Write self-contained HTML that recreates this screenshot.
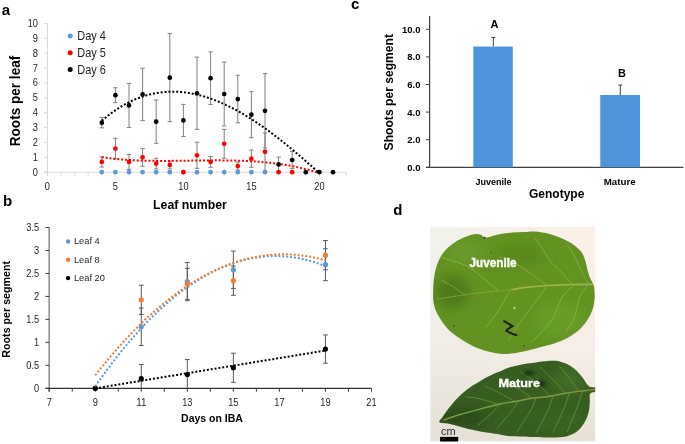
<!DOCTYPE html>
<html><head><meta charset="utf-8"><style>
html,body{margin:0;padding:0;background:#fff;}
svg{display:block;will-change:transform;}
text{font-family:"Liberation Sans",sans-serif;}
</style></head><body>
<svg width="685" height="444" viewBox="0 0 685 444" font-family="Liberation Sans, sans-serif">
<rect width="685" height="444" fill="#fff"/>
<line x1="47.4" y1="23.50" x2="47.4" y2="175.7" stroke="#d9d9d9" stroke-width="1"/>
<line x1="43.9" y1="172.2" x2="346.60" y2="172.2" stroke="#d9d9d9" stroke-width="1"/>
<line x1="43.9" y1="172.20" x2="47.4" y2="172.20" stroke="#d9d9d9" stroke-width="1"/>
<line x1="43.9" y1="157.33" x2="47.4" y2="157.33" stroke="#d9d9d9" stroke-width="1"/>
<line x1="43.9" y1="142.46" x2="47.4" y2="142.46" stroke="#d9d9d9" stroke-width="1"/>
<line x1="43.9" y1="127.59" x2="47.4" y2="127.59" stroke="#d9d9d9" stroke-width="1"/>
<line x1="43.9" y1="112.72" x2="47.4" y2="112.72" stroke="#d9d9d9" stroke-width="1"/>
<line x1="43.9" y1="97.85" x2="47.4" y2="97.85" stroke="#d9d9d9" stroke-width="1"/>
<line x1="43.9" y1="82.98" x2="47.4" y2="82.98" stroke="#d9d9d9" stroke-width="1"/>
<line x1="43.9" y1="68.11" x2="47.4" y2="68.11" stroke="#d9d9d9" stroke-width="1"/>
<line x1="43.9" y1="53.24" x2="47.4" y2="53.24" stroke="#d9d9d9" stroke-width="1"/>
<line x1="43.9" y1="38.37" x2="47.4" y2="38.37" stroke="#d9d9d9" stroke-width="1"/>
<line x1="43.9" y1="23.50" x2="47.4" y2="23.50" stroke="#d9d9d9" stroke-width="1"/>
<line x1="47.40" y1="172.2" x2="47.40" y2="175.7" stroke="#d9d9d9" stroke-width="1"/>
<line x1="61.00" y1="172.2" x2="61.00" y2="175.7" stroke="#d9d9d9" stroke-width="1"/>
<line x1="74.60" y1="172.2" x2="74.60" y2="175.7" stroke="#d9d9d9" stroke-width="1"/>
<line x1="88.20" y1="172.2" x2="88.20" y2="175.7" stroke="#d9d9d9" stroke-width="1"/>
<line x1="101.80" y1="172.2" x2="101.80" y2="175.7" stroke="#d9d9d9" stroke-width="1"/>
<line x1="115.40" y1="172.2" x2="115.40" y2="175.7" stroke="#d9d9d9" stroke-width="1"/>
<line x1="129.00" y1="172.2" x2="129.00" y2="175.7" stroke="#d9d9d9" stroke-width="1"/>
<line x1="142.60" y1="172.2" x2="142.60" y2="175.7" stroke="#d9d9d9" stroke-width="1"/>
<line x1="156.20" y1="172.2" x2="156.20" y2="175.7" stroke="#d9d9d9" stroke-width="1"/>
<line x1="169.80" y1="172.2" x2="169.80" y2="175.7" stroke="#d9d9d9" stroke-width="1"/>
<line x1="183.40" y1="172.2" x2="183.40" y2="175.7" stroke="#d9d9d9" stroke-width="1"/>
<line x1="197.00" y1="172.2" x2="197.00" y2="175.7" stroke="#d9d9d9" stroke-width="1"/>
<line x1="210.60" y1="172.2" x2="210.60" y2="175.7" stroke="#d9d9d9" stroke-width="1"/>
<line x1="224.20" y1="172.2" x2="224.20" y2="175.7" stroke="#d9d9d9" stroke-width="1"/>
<line x1="237.80" y1="172.2" x2="237.80" y2="175.7" stroke="#d9d9d9" stroke-width="1"/>
<line x1="251.40" y1="172.2" x2="251.40" y2="175.7" stroke="#d9d9d9" stroke-width="1"/>
<line x1="265.00" y1="172.2" x2="265.00" y2="175.7" stroke="#d9d9d9" stroke-width="1"/>
<line x1="278.60" y1="172.2" x2="278.60" y2="175.7" stroke="#d9d9d9" stroke-width="1"/>
<line x1="292.20" y1="172.2" x2="292.20" y2="175.7" stroke="#d9d9d9" stroke-width="1"/>
<line x1="305.80" y1="172.2" x2="305.80" y2="175.7" stroke="#d9d9d9" stroke-width="1"/>
<line x1="319.40" y1="172.2" x2="319.40" y2="175.7" stroke="#d9d9d9" stroke-width="1"/>
<line x1="333.00" y1="172.2" x2="333.00" y2="175.7" stroke="#d9d9d9" stroke-width="1"/>
<line x1="346.60" y1="172.2" x2="346.60" y2="175.7" stroke="#d9d9d9" stroke-width="1"/>
<text x="38" y="175.60" text-anchor="end" font-size="10.5" textLength="5.14" lengthAdjust="spacingAndGlyphs" fill="#1f1f1f">0</text>
<text x="38" y="160.73" text-anchor="end" font-size="10.5" textLength="5.14" lengthAdjust="spacingAndGlyphs" fill="#1f1f1f">1</text>
<text x="38" y="145.86" text-anchor="end" font-size="10.5" textLength="5.14" lengthAdjust="spacingAndGlyphs" fill="#1f1f1f">2</text>
<text x="38" y="130.99" text-anchor="end" font-size="10.5" textLength="5.14" lengthAdjust="spacingAndGlyphs" fill="#1f1f1f">3</text>
<text x="38" y="116.12" text-anchor="end" font-size="10.5" textLength="5.14" lengthAdjust="spacingAndGlyphs" fill="#1f1f1f">4</text>
<text x="38" y="101.25" text-anchor="end" font-size="10.5" textLength="5.14" lengthAdjust="spacingAndGlyphs" fill="#1f1f1f">5</text>
<text x="38" y="86.38" text-anchor="end" font-size="10.5" textLength="5.14" lengthAdjust="spacingAndGlyphs" fill="#1f1f1f">6</text>
<text x="38" y="71.51" text-anchor="end" font-size="10.5" textLength="5.14" lengthAdjust="spacingAndGlyphs" fill="#1f1f1f">7</text>
<text x="38" y="56.64" text-anchor="end" font-size="10.5" textLength="5.14" lengthAdjust="spacingAndGlyphs" fill="#1f1f1f">8</text>
<text x="38" y="41.77" text-anchor="end" font-size="10.5" textLength="5.14" lengthAdjust="spacingAndGlyphs" fill="#1f1f1f">9</text>
<text x="38" y="26.90" text-anchor="end" font-size="10.5" textLength="10.27" lengthAdjust="spacingAndGlyphs" fill="#1f1f1f">10</text>
<text x="47.40" y="189.6" text-anchor="middle" font-size="10.5" textLength="5.14" lengthAdjust="spacingAndGlyphs" fill="#1f1f1f">0</text>
<text x="115.40" y="189.6" text-anchor="middle" font-size="10.5" textLength="5.14" lengthAdjust="spacingAndGlyphs" fill="#1f1f1f">5</text>
<text x="183.40" y="189.6" text-anchor="middle" font-size="10.5" textLength="10.27" lengthAdjust="spacingAndGlyphs" fill="#1f1f1f">10</text>
<text x="251.40" y="189.6" text-anchor="middle" font-size="10.5" textLength="10.27" lengthAdjust="spacingAndGlyphs" fill="#1f1f1f">15</text>
<text x="319.40" y="189.6" text-anchor="middle" font-size="10.5" textLength="10.27" lengthAdjust="spacingAndGlyphs" fill="#1f1f1f">20</text>
<line x1="101.80" y1="156.88" x2="101.80" y2="167.00" stroke="#808080" stroke-width="1"/>
<line x1="99.60" y1="156.88" x2="104.00" y2="156.88" stroke="#808080" stroke-width="1"/>
<line x1="99.60" y1="167.00" x2="104.00" y2="167.00" stroke="#808080" stroke-width="1"/>
<line x1="115.40" y1="138.30" x2="115.40" y2="158.82" stroke="#808080" stroke-width="1"/>
<line x1="113.20" y1="138.30" x2="117.60" y2="138.30" stroke="#808080" stroke-width="1"/>
<line x1="113.20" y1="158.82" x2="117.60" y2="158.82" stroke="#808080" stroke-width="1"/>
<line x1="129.00" y1="154.50" x2="129.00" y2="169.37" stroke="#808080" stroke-width="1"/>
<line x1="126.80" y1="154.50" x2="131.20" y2="154.50" stroke="#808080" stroke-width="1"/>
<line x1="126.80" y1="169.37" x2="131.20" y2="169.37" stroke="#808080" stroke-width="1"/>
<line x1="142.60" y1="148.41" x2="142.60" y2="166.25" stroke="#808080" stroke-width="1"/>
<line x1="140.40" y1="148.41" x2="144.80" y2="148.41" stroke="#808080" stroke-width="1"/>
<line x1="140.40" y1="166.25" x2="144.80" y2="166.25" stroke="#808080" stroke-width="1"/>
<line x1="156.20" y1="158.22" x2="156.20" y2="168.93" stroke="#808080" stroke-width="1"/>
<line x1="154.00" y1="158.22" x2="158.40" y2="158.22" stroke="#808080" stroke-width="1"/>
<line x1="154.00" y1="168.93" x2="158.40" y2="168.93" stroke="#808080" stroke-width="1"/>
<line x1="169.80" y1="160.90" x2="169.80" y2="168.93" stroke="#808080" stroke-width="1"/>
<line x1="167.60" y1="160.90" x2="172.00" y2="160.90" stroke="#808080" stroke-width="1"/>
<line x1="167.60" y1="168.93" x2="172.00" y2="168.93" stroke="#808080" stroke-width="1"/>
<line x1="197.00" y1="142.16" x2="197.00" y2="168.33" stroke="#808080" stroke-width="1"/>
<line x1="194.80" y1="142.16" x2="199.20" y2="142.16" stroke="#808080" stroke-width="1"/>
<line x1="194.80" y1="168.33" x2="199.20" y2="168.33" stroke="#808080" stroke-width="1"/>
<line x1="210.60" y1="156.59" x2="210.60" y2="167.29" stroke="#808080" stroke-width="1"/>
<line x1="208.40" y1="156.59" x2="212.80" y2="156.59" stroke="#808080" stroke-width="1"/>
<line x1="208.40" y1="167.29" x2="212.80" y2="167.29" stroke="#808080" stroke-width="1"/>
<line x1="224.20" y1="129.37" x2="224.20" y2="158.22" stroke="#808080" stroke-width="1"/>
<line x1="222.00" y1="129.37" x2="226.40" y2="129.37" stroke="#808080" stroke-width="1"/>
<line x1="222.00" y1="158.22" x2="226.40" y2="158.22" stroke="#808080" stroke-width="1"/>
<line x1="237.80" y1="162.09" x2="237.80" y2="170.12" stroke="#808080" stroke-width="1"/>
<line x1="235.60" y1="162.09" x2="240.00" y2="162.09" stroke="#808080" stroke-width="1"/>
<line x1="235.60" y1="170.12" x2="240.00" y2="170.12" stroke="#808080" stroke-width="1"/>
<line x1="251.40" y1="150.04" x2="251.40" y2="167.29" stroke="#808080" stroke-width="1"/>
<line x1="249.20" y1="150.04" x2="253.60" y2="150.04" stroke="#808080" stroke-width="1"/>
<line x1="249.20" y1="167.29" x2="253.60" y2="167.29" stroke="#808080" stroke-width="1"/>
<line x1="265.00" y1="132.94" x2="265.00" y2="170.71" stroke="#808080" stroke-width="1"/>
<line x1="262.80" y1="132.94" x2="267.20" y2="132.94" stroke="#808080" stroke-width="1"/>
<line x1="262.80" y1="170.71" x2="267.20" y2="170.71" stroke="#808080" stroke-width="1"/>
<line x1="101.80" y1="117.48" x2="101.80" y2="127.89" stroke="#808080" stroke-width="1"/>
<line x1="99.60" y1="117.48" x2="104.00" y2="117.48" stroke="#808080" stroke-width="1"/>
<line x1="99.60" y1="127.89" x2="104.00" y2="127.89" stroke="#808080" stroke-width="1"/>
<line x1="115.40" y1="87.74" x2="115.40" y2="102.61" stroke="#808080" stroke-width="1"/>
<line x1="113.20" y1="87.74" x2="117.60" y2="87.74" stroke="#808080" stroke-width="1"/>
<line x1="113.20" y1="102.61" x2="117.60" y2="102.61" stroke="#808080" stroke-width="1"/>
<line x1="129.00" y1="83.43" x2="129.00" y2="127.44" stroke="#808080" stroke-width="1"/>
<line x1="126.80" y1="83.43" x2="131.20" y2="83.43" stroke="#808080" stroke-width="1"/>
<line x1="126.80" y1="127.44" x2="131.20" y2="127.44" stroke="#808080" stroke-width="1"/>
<line x1="142.60" y1="68.26" x2="142.60" y2="120.60" stroke="#808080" stroke-width="1"/>
<line x1="140.40" y1="68.26" x2="144.80" y2="68.26" stroke="#808080" stroke-width="1"/>
<line x1="140.40" y1="120.60" x2="144.80" y2="120.60" stroke="#808080" stroke-width="1"/>
<line x1="156.20" y1="99.93" x2="156.20" y2="143.35" stroke="#808080" stroke-width="1"/>
<line x1="154.00" y1="99.93" x2="158.40" y2="99.93" stroke="#808080" stroke-width="1"/>
<line x1="154.00" y1="143.35" x2="158.40" y2="143.35" stroke="#808080" stroke-width="1"/>
<line x1="169.80" y1="33.61" x2="169.80" y2="121.64" stroke="#808080" stroke-width="1"/>
<line x1="167.60" y1="33.61" x2="172.00" y2="33.61" stroke="#808080" stroke-width="1"/>
<line x1="167.60" y1="121.64" x2="172.00" y2="121.64" stroke="#808080" stroke-width="1"/>
<line x1="183.40" y1="104.39" x2="183.40" y2="136.51" stroke="#808080" stroke-width="1"/>
<line x1="181.20" y1="104.39" x2="185.60" y2="104.39" stroke="#808080" stroke-width="1"/>
<line x1="181.20" y1="136.51" x2="185.60" y2="136.51" stroke="#808080" stroke-width="1"/>
<line x1="197.00" y1="57.11" x2="197.00" y2="129.37" stroke="#808080" stroke-width="1"/>
<line x1="194.80" y1="57.11" x2="199.20" y2="57.11" stroke="#808080" stroke-width="1"/>
<line x1="194.80" y1="129.37" x2="199.20" y2="129.37" stroke="#808080" stroke-width="1"/>
<line x1="210.60" y1="51.90" x2="210.60" y2="104.54" stroke="#808080" stroke-width="1"/>
<line x1="208.40" y1="51.90" x2="212.80" y2="51.90" stroke="#808080" stroke-width="1"/>
<line x1="208.40" y1="104.54" x2="212.80" y2="104.54" stroke="#808080" stroke-width="1"/>
<line x1="224.20" y1="62.01" x2="224.20" y2="125.95" stroke="#808080" stroke-width="1"/>
<line x1="222.00" y1="62.01" x2="226.40" y2="62.01" stroke="#808080" stroke-width="1"/>
<line x1="222.00" y1="125.95" x2="226.40" y2="125.95" stroke="#808080" stroke-width="1"/>
<line x1="237.80" y1="75.25" x2="237.80" y2="122.83" stroke="#808080" stroke-width="1"/>
<line x1="235.60" y1="75.25" x2="240.00" y2="75.25" stroke="#808080" stroke-width="1"/>
<line x1="235.60" y1="122.83" x2="240.00" y2="122.83" stroke="#808080" stroke-width="1"/>
<line x1="251.40" y1="91.60" x2="251.40" y2="137.70" stroke="#808080" stroke-width="1"/>
<line x1="249.20" y1="91.60" x2="253.60" y2="91.60" stroke="#808080" stroke-width="1"/>
<line x1="249.20" y1="137.70" x2="253.60" y2="137.70" stroke="#808080" stroke-width="1"/>
<line x1="265.00" y1="73.61" x2="265.00" y2="147.96" stroke="#808080" stroke-width="1"/>
<line x1="262.80" y1="73.61" x2="267.20" y2="73.61" stroke="#808080" stroke-width="1"/>
<line x1="262.80" y1="147.96" x2="267.20" y2="147.96" stroke="#808080" stroke-width="1"/>
<line x1="278.60" y1="157.03" x2="278.60" y2="171.90" stroke="#808080" stroke-width="1"/>
<line x1="276.40" y1="157.03" x2="280.80" y2="157.03" stroke="#808080" stroke-width="1"/>
<line x1="276.40" y1="171.90" x2="280.80" y2="171.90" stroke="#808080" stroke-width="1"/>
<line x1="292.20" y1="151.38" x2="292.20" y2="168.63" stroke="#808080" stroke-width="1"/>
<line x1="290.00" y1="151.38" x2="294.40" y2="151.38" stroke="#808080" stroke-width="1"/>
<line x1="290.00" y1="168.63" x2="294.40" y2="168.63" stroke="#808080" stroke-width="1"/>
<circle cx="101.80" cy="172.20" r="2.35" fill="#5b9bd5"/>
<circle cx="115.40" cy="172.20" r="2.35" fill="#5b9bd5"/>
<circle cx="129.00" cy="172.20" r="2.35" fill="#5b9bd5"/>
<circle cx="142.60" cy="172.20" r="2.35" fill="#5b9bd5"/>
<circle cx="156.20" cy="172.20" r="2.35" fill="#5b9bd5"/>
<circle cx="169.80" cy="172.20" r="2.35" fill="#5b9bd5"/>
<circle cx="183.40" cy="172.20" r="2.35" fill="#5b9bd5"/>
<circle cx="197.00" cy="172.20" r="2.35" fill="#5b9bd5"/>
<circle cx="210.60" cy="172.20" r="2.35" fill="#5b9bd5"/>
<circle cx="224.20" cy="172.20" r="2.35" fill="#5b9bd5"/>
<circle cx="237.80" cy="172.20" r="2.35" fill="#5b9bd5"/>
<circle cx="251.40" cy="172.20" r="2.35" fill="#5b9bd5"/>
<circle cx="265.00" cy="172.20" r="2.35" fill="#5b9bd5"/>
<circle cx="101.80" cy="161.94" r="2.35" fill="#ff0000"/>
<circle cx="115.40" cy="148.56" r="2.35" fill="#ff0000"/>
<circle cx="129.00" cy="161.94" r="2.35" fill="#ff0000"/>
<circle cx="142.60" cy="157.33" r="2.35" fill="#ff0000"/>
<circle cx="156.20" cy="163.58" r="2.35" fill="#ff0000"/>
<circle cx="169.80" cy="164.91" r="2.35" fill="#ff0000"/>
<circle cx="183.40" cy="172.20" r="2.35" fill="#ff0000"/>
<circle cx="197.00" cy="155.25" r="2.35" fill="#ff0000"/>
<circle cx="210.60" cy="161.94" r="2.35" fill="#ff0000"/>
<circle cx="224.20" cy="143.80" r="2.35" fill="#ff0000"/>
<circle cx="237.80" cy="166.10" r="2.35" fill="#ff0000"/>
<circle cx="251.40" cy="158.67" r="2.35" fill="#ff0000"/>
<circle cx="265.00" cy="151.83" r="2.35" fill="#ff0000"/>
<circle cx="278.60" cy="172.20" r="2.35" fill="#ff0000"/>
<circle cx="292.20" cy="172.20" r="2.35" fill="#ff0000"/>
<path d="M101.80,157.23 L104.55,157.61 L107.31,157.97 L110.06,158.30 L112.82,158.61 L115.57,158.90 L118.33,159.16 L121.08,159.40 L123.84,159.62 L126.59,159.81 L129.34,159.99 L132.10,160.15 L134.85,160.29 L137.61,160.42 L140.36,160.52 L143.12,160.62 L145.87,160.69 L148.63,160.76 L151.38,160.81 L154.13,160.85 L156.89,160.88 L159.64,160.89 L162.40,160.90 L165.15,160.90 L167.91,160.89 L170.66,160.88 L173.42,160.86 L176.17,160.83 L178.92,160.80 L181.68,160.76 L184.43,160.73 L187.19,160.69 L189.94,160.64 L192.70,160.60 L195.45,160.56 L198.21,160.52 L200.96,160.49 L203.71,160.45 L206.47,160.42 L209.22,160.40 L211.98,160.38 L214.73,160.37 L217.49,160.36 L220.24,160.36 L222.99,160.38 L225.75,160.40 L228.50,160.43 L231.26,160.47 L234.01,160.53 L236.77,160.60 L239.52,160.68 L242.28,160.78 L245.03,160.90 L247.78,161.03 L250.54,161.18 L253.29,161.34 L256.05,161.53 L258.80,161.74 L261.56,161.96 L264.31,162.21 L267.07,162.48 L269.82,162.78 L272.57,163.09 L275.33,163.44 L278.08,163.81 L280.84,164.20 L283.59,164.63 L286.35,165.08 L289.10,165.56 L291.86,166.07 L294.61,166.61 L297.36,167.19 L300.12,167.79 L302.87,168.43 L305.63,169.11 L308.38,169.82 L311.14,170.56 L313.89,171.35 L316.65,172.17 L319.40,173.03" fill="none" stroke="#ff0000" stroke-width="2" stroke-dasharray="2 1.9"/>
<circle cx="101.80" cy="122.68" r="2.35" fill="#000"/>
<circle cx="115.40" cy="95.17" r="2.35" fill="#000"/>
<circle cx="129.00" cy="105.43" r="2.35" fill="#000"/>
<circle cx="142.60" cy="94.43" r="2.35" fill="#000"/>
<circle cx="156.20" cy="121.64" r="2.35" fill="#000"/>
<circle cx="169.80" cy="77.63" r="2.35" fill="#000"/>
<circle cx="183.40" cy="120.45" r="2.35" fill="#000"/>
<circle cx="197.00" cy="93.24" r="2.35" fill="#000"/>
<circle cx="210.60" cy="78.22" r="2.35" fill="#000"/>
<circle cx="224.20" cy="93.98" r="2.35" fill="#000"/>
<circle cx="237.80" cy="99.04" r="2.35" fill="#000"/>
<circle cx="251.40" cy="114.65" r="2.35" fill="#000"/>
<circle cx="265.00" cy="110.79" r="2.35" fill="#000"/>
<circle cx="278.60" cy="164.47" r="2.35" fill="#000"/>
<circle cx="292.20" cy="160.01" r="2.35" fill="#000"/>
<circle cx="305.80" cy="172.20" r="2.35" fill="#000"/>
<circle cx="319.40" cy="172.20" r="2.35" fill="#000"/>
<circle cx="333.00" cy="172.20" r="2.35" fill="#000"/>
<path d="M101.80,120.78 L104.55,118.44 L107.31,116.21 L110.06,114.08 L112.82,112.06 L115.57,110.15 L118.33,108.33 L121.08,106.62 L123.84,105.00 L126.59,103.49 L129.34,102.07 L132.10,100.74 L134.85,99.52 L137.61,98.38 L140.36,97.34 L143.12,96.40 L145.87,95.54 L148.63,94.77 L151.38,94.09 L154.13,93.50 L156.89,92.99 L159.64,92.57 L162.40,92.23 L165.15,91.97 L167.91,91.79 L170.66,91.70 L173.42,91.68 L176.17,91.74 L178.92,91.88 L181.68,92.09 L184.43,92.38 L187.19,92.74 L189.94,93.17 L192.70,93.68 L195.45,94.25 L198.21,94.89 L200.96,95.60 L203.71,96.38 L206.47,97.22 L209.22,98.12 L211.98,99.09 L214.73,100.11 L217.49,101.20 L220.24,102.35 L222.99,103.56 L225.75,104.82 L228.50,106.14 L231.26,107.51 L234.01,108.94 L236.77,110.41 L239.52,111.94 L242.28,113.52 L245.03,115.15 L247.78,116.83 L250.54,118.55 L253.29,120.32 L256.05,122.13 L258.80,123.99 L261.56,125.88 L264.31,127.82 L267.07,129.80 L269.82,131.81 L272.57,133.86 L275.33,135.95 L278.08,138.08 L280.84,140.23 L283.59,142.42 L286.35,144.64 L289.10,146.90 L291.86,149.18 L294.61,151.48 L297.36,153.82 L300.12,156.18 L302.87,158.57 L305.63,160.97 L308.38,163.40 L311.14,165.86 L313.89,168.33 L316.65,170.82 L319.40,173.32" fill="none" stroke="#000" stroke-width="2" stroke-dasharray="2 1.9"/>
<circle cx="70.2" cy="35.9" r="2.5" fill="#5b9bd5"/>
<text x="77.3" y="39.9" font-size="12.2" textLength="28.6" lengthAdjust="spacingAndGlyphs" fill="#1f1f1f">Day 4</text>
<circle cx="70.2" cy="52.7" r="2.5" fill="#ff0000"/>
<text x="77.3" y="56.7" font-size="12.2" textLength="28.6" lengthAdjust="spacingAndGlyphs" fill="#1f1f1f">Day 5</text>
<circle cx="70.2" cy="69.5" r="2.5" fill="#000"/>
<text x="77.3" y="73.5" font-size="12.2" textLength="28.6" lengthAdjust="spacingAndGlyphs" fill="#1f1f1f">Day 6</text>
<text x="190" y="208.7" text-anchor="middle" font-size="12.3" font-weight="bold" fill="#000">Leaf number</text>
<text transform="translate(19.9,101.0) rotate(-90)" text-anchor="middle" font-size="13.8" font-weight="bold" fill="#000" textLength="90.5" lengthAdjust="spacingAndGlyphs">Roots per leaf</text>
<line x1="49.2" y1="227.51" x2="49.2" y2="391.7" stroke="#8a8a8a" stroke-width="1.5"/>
<line x1="45.5" y1="388.3" x2="371.48" y2="388.3" stroke="#303030" stroke-width="1.15"/>
<line x1="45.5" y1="388.30" x2="49.2" y2="388.30" stroke="#383838" stroke-width="1"/>
<text x="39.2" y="391.60" text-anchor="end" font-size="10.5" textLength="5.14" lengthAdjust="spacingAndGlyphs" fill="#1f1f1f">0</text>
<line x1="45.5" y1="365.33" x2="49.2" y2="365.33" stroke="#383838" stroke-width="1"/>
<text x="39.2" y="368.63" text-anchor="end" font-size="10.5" textLength="12.84" lengthAdjust="spacingAndGlyphs" fill="#1f1f1f">0.5</text>
<line x1="45.5" y1="342.36" x2="49.2" y2="342.36" stroke="#383838" stroke-width="1"/>
<text x="39.2" y="345.66" text-anchor="end" font-size="10.5" textLength="5.14" lengthAdjust="spacingAndGlyphs" fill="#1f1f1f">1</text>
<line x1="45.5" y1="319.39" x2="49.2" y2="319.39" stroke="#383838" stroke-width="1"/>
<text x="39.2" y="322.69" text-anchor="end" font-size="10.5" textLength="12.84" lengthAdjust="spacingAndGlyphs" fill="#1f1f1f">1.5</text>
<line x1="45.5" y1="296.42" x2="49.2" y2="296.42" stroke="#383838" stroke-width="1"/>
<text x="39.2" y="299.72" text-anchor="end" font-size="10.5" textLength="5.14" lengthAdjust="spacingAndGlyphs" fill="#1f1f1f">2</text>
<line x1="45.5" y1="273.45" x2="49.2" y2="273.45" stroke="#383838" stroke-width="1"/>
<text x="39.2" y="276.75" text-anchor="end" font-size="10.5" textLength="12.84" lengthAdjust="spacingAndGlyphs" fill="#1f1f1f">2.5</text>
<line x1="45.5" y1="250.48" x2="49.2" y2="250.48" stroke="#383838" stroke-width="1"/>
<text x="39.2" y="253.78" text-anchor="end" font-size="10.5" textLength="5.14" lengthAdjust="spacingAndGlyphs" fill="#1f1f1f">3</text>
<line x1="45.5" y1="227.51" x2="49.2" y2="227.51" stroke="#383838" stroke-width="1"/>
<text x="39.2" y="230.81" text-anchor="end" font-size="10.5" textLength="12.84" lengthAdjust="spacingAndGlyphs" fill="#1f1f1f">3.5</text>
<line x1="49.20" y1="388.3" x2="49.20" y2="391.7" stroke="#383838" stroke-width="1"/>
<line x1="72.22" y1="388.3" x2="72.22" y2="391.7" stroke="#383838" stroke-width="1"/>
<line x1="95.24" y1="388.3" x2="95.24" y2="391.7" stroke="#383838" stroke-width="1"/>
<line x1="118.26" y1="388.3" x2="118.26" y2="391.7" stroke="#383838" stroke-width="1"/>
<line x1="141.28" y1="388.3" x2="141.28" y2="391.7" stroke="#383838" stroke-width="1"/>
<line x1="164.30" y1="388.3" x2="164.30" y2="391.7" stroke="#383838" stroke-width="1"/>
<line x1="187.32" y1="388.3" x2="187.32" y2="391.7" stroke="#383838" stroke-width="1"/>
<line x1="210.34" y1="388.3" x2="210.34" y2="391.7" stroke="#383838" stroke-width="1"/>
<line x1="233.36" y1="388.3" x2="233.36" y2="391.7" stroke="#383838" stroke-width="1"/>
<line x1="256.38" y1="388.3" x2="256.38" y2="391.7" stroke="#383838" stroke-width="1"/>
<line x1="279.40" y1="388.3" x2="279.40" y2="391.7" stroke="#383838" stroke-width="1"/>
<line x1="302.42" y1="388.3" x2="302.42" y2="391.7" stroke="#383838" stroke-width="1"/>
<line x1="325.44" y1="388.3" x2="325.44" y2="391.7" stroke="#383838" stroke-width="1"/>
<line x1="348.46" y1="388.3" x2="348.46" y2="391.7" stroke="#383838" stroke-width="1"/>
<line x1="371.48" y1="388.3" x2="371.48" y2="391.7" stroke="#383838" stroke-width="1"/>
<text x="49.20" y="406.3" text-anchor="middle" font-size="10.5" textLength="5.14" lengthAdjust="spacingAndGlyphs" fill="#1f1f1f">7</text>
<text x="95.24" y="406.3" text-anchor="middle" font-size="10.5" textLength="5.14" lengthAdjust="spacingAndGlyphs" fill="#1f1f1f">9</text>
<text x="141.28" y="406.3" text-anchor="middle" font-size="10.5" textLength="10.27" lengthAdjust="spacingAndGlyphs" fill="#1f1f1f">11</text>
<text x="187.32" y="406.3" text-anchor="middle" font-size="10.5" textLength="10.27" lengthAdjust="spacingAndGlyphs" fill="#1f1f1f">13</text>
<text x="233.36" y="406.3" text-anchor="middle" font-size="10.5" textLength="10.27" lengthAdjust="spacingAndGlyphs" fill="#1f1f1f">15</text>
<text x="279.40" y="406.3" text-anchor="middle" font-size="10.5" textLength="10.27" lengthAdjust="spacingAndGlyphs" fill="#1f1f1f">17</text>
<text x="325.44" y="406.3" text-anchor="middle" font-size="10.5" textLength="10.27" lengthAdjust="spacingAndGlyphs" fill="#1f1f1f">19</text>
<text x="371.48" y="406.3" text-anchor="middle" font-size="10.5" textLength="10.27" lengthAdjust="spacingAndGlyphs" fill="#1f1f1f">21</text>
<line x1="141.28" y1="308.04" x2="141.28" y2="345.44" stroke="#595959" stroke-width="1"/>
<line x1="138.88" y1="308.04" x2="143.68" y2="308.04" stroke="#595959" stroke-width="1"/>
<line x1="138.88" y1="345.44" x2="143.68" y2="345.44" stroke="#595959" stroke-width="1"/>
<line x1="187.32" y1="262.44" x2="187.32" y2="300.75" stroke="#595959" stroke-width="1"/>
<line x1="184.92" y1="262.44" x2="189.72" y2="262.44" stroke="#595959" stroke-width="1"/>
<line x1="184.92" y1="300.75" x2="189.72" y2="300.75" stroke="#595959" stroke-width="1"/>
<line x1="233.36" y1="251.04" x2="233.36" y2="288.44" stroke="#595959" stroke-width="1"/>
<line x1="230.96" y1="251.04" x2="235.76" y2="251.04" stroke="#595959" stroke-width="1"/>
<line x1="230.96" y1="288.44" x2="235.76" y2="288.44" stroke="#595959" stroke-width="1"/>
<line x1="325.44" y1="248.76" x2="325.44" y2="280.68" stroke="#595959" stroke-width="1"/>
<line x1="323.04" y1="248.76" x2="327.84" y2="248.76" stroke="#595959" stroke-width="1"/>
<line x1="323.04" y1="280.68" x2="327.84" y2="280.68" stroke="#595959" stroke-width="1"/>
<line x1="141.28" y1="285.24" x2="141.28" y2="314.43" stroke="#595959" stroke-width="1"/>
<line x1="138.88" y1="285.24" x2="143.68" y2="285.24" stroke="#595959" stroke-width="1"/>
<line x1="138.88" y1="314.43" x2="143.68" y2="314.43" stroke="#595959" stroke-width="1"/>
<line x1="187.32" y1="268.37" x2="187.32" y2="299.38" stroke="#595959" stroke-width="1"/>
<line x1="184.92" y1="268.37" x2="189.72" y2="268.37" stroke="#595959" stroke-width="1"/>
<line x1="184.92" y1="299.38" x2="189.72" y2="299.38" stroke="#595959" stroke-width="1"/>
<line x1="233.36" y1="266.09" x2="233.36" y2="295.28" stroke="#595959" stroke-width="1"/>
<line x1="230.96" y1="266.09" x2="235.76" y2="266.09" stroke="#595959" stroke-width="1"/>
<line x1="230.96" y1="295.28" x2="235.76" y2="295.28" stroke="#595959" stroke-width="1"/>
<line x1="325.44" y1="240.56" x2="325.44" y2="269.74" stroke="#595959" stroke-width="1"/>
<line x1="323.04" y1="240.56" x2="327.84" y2="240.56" stroke="#595959" stroke-width="1"/>
<line x1="323.04" y1="269.74" x2="327.84" y2="269.74" stroke="#595959" stroke-width="1"/>
<line x1="141.28" y1="364.59" x2="141.28" y2="388.30" stroke="#595959" stroke-width="1"/>
<line x1="138.88" y1="364.59" x2="143.68" y2="364.59" stroke="#595959" stroke-width="1"/>
<line x1="187.32" y1="359.57" x2="187.32" y2="388.30" stroke="#595959" stroke-width="1"/>
<line x1="184.92" y1="359.57" x2="189.72" y2="359.57" stroke="#595959" stroke-width="1"/>
<line x1="233.36" y1="353.19" x2="233.36" y2="382.37" stroke="#595959" stroke-width="1"/>
<line x1="230.96" y1="353.19" x2="235.76" y2="353.19" stroke="#595959" stroke-width="1"/>
<line x1="230.96" y1="382.37" x2="235.76" y2="382.37" stroke="#595959" stroke-width="1"/>
<line x1="325.44" y1="334.95" x2="325.44" y2="363.22" stroke="#595959" stroke-width="1"/>
<line x1="323.04" y1="334.95" x2="327.84" y2="334.95" stroke="#595959" stroke-width="1"/>
<line x1="323.04" y1="363.22" x2="327.84" y2="363.22" stroke="#595959" stroke-width="1"/>
<circle cx="95.24" cy="388.30" r="2.6" fill="#5b9bd5"/>
<circle cx="141.28" cy="326.74" r="2.6" fill="#5b9bd5"/>
<circle cx="187.32" cy="281.60" r="2.6" fill="#5b9bd5"/>
<circle cx="233.36" cy="269.74" r="2.6" fill="#5b9bd5"/>
<circle cx="325.44" cy="264.72" r="2.6" fill="#5b9bd5"/>
<circle cx="95.24" cy="388.30" r="2.6" fill="#ed7d31"/>
<circle cx="141.28" cy="299.84" r="2.6" fill="#ed7d31"/>
<circle cx="187.32" cy="283.88" r="2.6" fill="#ed7d31"/>
<circle cx="233.36" cy="280.68" r="2.6" fill="#ed7d31"/>
<circle cx="325.44" cy="255.15" r="2.6" fill="#ed7d31"/>
<circle cx="95.24" cy="388.30" r="2.6" fill="#000"/>
<circle cx="141.28" cy="378.72" r="2.6" fill="#000"/>
<circle cx="187.32" cy="374.62" r="2.6" fill="#000"/>
<circle cx="233.36" cy="367.78" r="2.6" fill="#000"/>
<circle cx="325.44" cy="349.08" r="2.6" fill="#000"/>
<path d="M95.24,386.37 L98.15,382.19 L101.07,378.07 L103.98,374.03 L106.90,370.05 L109.81,366.14 L112.72,362.30 L115.64,358.53 L118.55,354.82 L121.47,351.18 L124.38,347.61 L127.29,344.11 L130.21,340.68 L133.12,337.32 L136.03,334.02 L138.95,330.80 L141.86,327.64 L144.78,324.54 L147.69,321.52 L150.60,318.57 L153.52,315.68 L156.43,312.86 L159.35,310.11 L162.26,307.43 L165.17,304.82 L168.09,302.27 L171.00,299.80 L173.92,297.39 L176.83,295.05 L179.74,292.77 L182.66,290.57 L185.57,288.43 L188.49,286.37 L191.40,284.37 L194.31,282.44 L197.23,280.57 L200.14,278.78 L203.06,277.05 L205.97,275.39 L208.88,273.80 L211.80,272.28 L214.71,270.83 L217.62,269.44 L220.54,268.12 L223.45,266.88 L226.37,265.70 L229.28,264.58 L232.19,263.54 L235.11,262.56 L238.02,261.65 L240.94,260.82 L243.85,260.04 L246.76,259.34 L249.68,258.71 L252.59,258.14 L255.51,257.64 L258.42,257.21 L261.33,256.85 L264.25,256.55 L267.16,256.33 L270.08,256.17 L272.99,256.08 L275.90,256.06 L278.82,256.11 L281.73,256.23 L284.65,256.41 L287.56,256.66 L290.47,256.98 L293.39,257.37 L296.30,257.83 L299.21,258.35 L302.13,258.95 L305.04,259.61 L307.96,260.34 L310.87,261.13 L313.78,262.00 L316.70,262.94 L319.61,263.94 L322.53,265.01 L325.44,266.15" fill="none" stroke="#5b9bd5" stroke-width="2" stroke-dasharray="2 1.9"/>
<path d="M95.24,375.32 L98.15,371.61 L101.07,367.95 L103.98,364.35 L106.90,360.81 L109.81,357.33 L112.72,353.90 L115.64,350.54 L118.55,347.23 L121.47,343.98 L124.38,340.78 L127.29,337.65 L130.21,334.57 L133.12,331.55 L136.03,328.59 L138.95,325.68 L141.86,322.84 L144.78,320.05 L147.69,317.32 L150.60,314.64 L153.52,312.03 L156.43,309.47 L159.35,306.97 L162.26,304.53 L165.17,302.15 L168.09,299.83 L171.00,297.56 L173.92,295.35 L176.83,293.20 L179.74,291.11 L182.66,289.07 L185.57,287.09 L188.49,285.17 L191.40,283.31 L194.31,281.51 L197.23,279.76 L200.14,278.07 L203.06,276.44 L205.97,274.87 L208.88,273.36 L211.80,271.90 L214.71,270.50 L217.62,269.16 L220.54,267.88 L223.45,266.65 L226.37,265.49 L229.28,264.38 L232.19,263.33 L235.11,262.33 L238.02,261.40 L240.94,260.52 L243.85,259.70 L246.76,258.94 L249.68,258.24 L252.59,257.59 L255.51,257.01 L258.42,256.48 L261.33,256.00 L264.25,255.59 L267.16,255.23 L270.08,254.94 L272.99,254.70 L275.90,254.51 L278.82,254.39 L281.73,254.32 L284.65,254.31 L287.56,254.36 L290.47,254.47 L293.39,254.64 L296.30,254.86 L299.21,255.14 L302.13,255.48 L305.04,255.88 L307.96,256.33 L310.87,256.84 L313.78,257.41 L316.70,258.04 L319.61,258.73 L322.53,259.47 L325.44,260.28" fill="none" stroke="#ed7d31" stroke-width="2" stroke-dasharray="2 1.9"/>
<path d="M95.24,388.35 L98.15,387.87 L101.07,387.39 L103.98,386.91 L106.90,386.43 L109.81,385.96 L112.72,385.48 L115.64,385.00 L118.55,384.52 L121.47,384.04 L124.38,383.56 L127.29,383.08 L130.21,382.60 L133.12,382.12 L136.03,381.65 L138.95,381.17 L141.86,380.69 L144.78,380.21 L147.69,379.73 L150.60,379.25 L153.52,378.77 L156.43,378.29 L159.35,377.81 L162.26,377.34 L165.17,376.86 L168.09,376.38 L171.00,375.90 L173.92,375.42 L176.83,374.94 L179.74,374.46 L182.66,373.98 L185.57,373.50 L188.49,373.03 L191.40,372.55 L194.31,372.07 L197.23,371.59 L200.14,371.11 L203.06,370.63 L205.97,370.15 L208.88,369.67 L211.80,369.19 L214.71,368.72 L217.62,368.24 L220.54,367.76 L223.45,367.28 L226.37,366.80 L229.28,366.32 L232.19,365.84 L235.11,365.36 L238.02,364.88 L240.94,364.40 L243.85,363.93 L246.76,363.45 L249.68,362.97 L252.59,362.49 L255.51,362.01 L258.42,361.53 L261.33,361.05 L264.25,360.57 L267.16,360.09 L270.08,359.62 L272.99,359.14 L275.90,358.66 L278.82,358.18 L281.73,357.70 L284.65,357.22 L287.56,356.74 L290.47,356.26 L293.39,355.78 L296.30,355.31 L299.21,354.83 L302.13,354.35 L305.04,353.87 L307.96,353.39 L310.87,352.91 L313.78,352.43 L316.70,351.95 L319.61,351.47 L322.53,351.00 L325.44,350.52" fill="none" stroke="#000" stroke-width="2" stroke-dasharray="2 1.9"/>
<circle cx="68.1" cy="241.5" r="2.2" fill="#5b9bd5"/>
<text x="73.9" y="244.3" font-size="9.3" fill="#1f1f1f">Leaf 4</text>
<circle cx="68.1" cy="259.8" r="2.2" fill="#ed7d31"/>
<text x="73.9" y="262.6" font-size="9.3" fill="#1f1f1f">Leaf 8</text>
<circle cx="68.1" cy="278.1" r="2.2" fill="#000"/>
<text x="73.9" y="280.9" font-size="9.3" fill="#1f1f1f">Leaf 20</text>
<text x="212" y="422.2" text-anchor="middle" font-size="10.5" font-weight="bold" fill="#000">Days on IBA</text>
<text transform="translate(10.1,309.3) rotate(-90)" text-anchor="middle" font-size="10.7" font-weight="bold" fill="#000">Roots per segment</text>
<line x1="429.6" y1="16" x2="429.6" y2="167.3" stroke="#404040" stroke-width="1.2"/>
<line x1="425.90000000000003" y1="167.3" x2="683.4" y2="167.3" stroke="#404040" stroke-width="1.2"/>
<line x1="425.90000000000003" y1="167.30" x2="429.6" y2="167.30" stroke="#404040" stroke-width="1"/>
<text x="420.5" y="170.80" text-anchor="end" font-size="9.5" font-weight="bold" fill="#000">0.0</text>
<line x1="425.90000000000003" y1="139.70" x2="429.6" y2="139.70" stroke="#404040" stroke-width="1"/>
<text x="420.5" y="143.20" text-anchor="end" font-size="9.5" font-weight="bold" fill="#000">2.0</text>
<line x1="425.90000000000003" y1="112.10" x2="429.6" y2="112.10" stroke="#404040" stroke-width="1"/>
<text x="420.5" y="115.60" text-anchor="end" font-size="9.5" font-weight="bold" fill="#000">4.0</text>
<line x1="425.90000000000003" y1="84.50" x2="429.6" y2="84.50" stroke="#404040" stroke-width="1"/>
<text x="420.5" y="88.00" text-anchor="end" font-size="9.5" font-weight="bold" fill="#000">6.0</text>
<line x1="425.90000000000003" y1="56.90" x2="429.6" y2="56.90" stroke="#404040" stroke-width="1"/>
<text x="420.5" y="60.40" text-anchor="end" font-size="9.5" font-weight="bold" fill="#000">8.0</text>
<line x1="425.90000000000003" y1="29.30" x2="429.6" y2="29.30" stroke="#404040" stroke-width="1"/>
<text x="420.5" y="32.80" text-anchor="end" font-size="9.5" font-weight="bold" fill="#000">10.0</text>
<rect x="473.3" y="46.55" width="39.5" height="120.75" fill="#4f95db"/>
<rect x="600.3" y="94.99" width="39.7" height="72.31" fill="#4f95db"/>
<line x1="493.3" y1="37.44" x2="493.3" y2="46.55" stroke="#404040" stroke-width="1"/>
<line x1="491.3" y1="37.44" x2="495.3" y2="37.44" stroke="#404040" stroke-width="1"/>
<line x1="620.3" y1="85.05" x2="620.3" y2="94.99" stroke="#404040" stroke-width="1"/>
<line x1="618.3" y1="85.05" x2="622.3" y2="85.05" stroke="#404040" stroke-width="1"/>
<text x="494.5" y="28" text-anchor="middle" font-size="11" font-weight="bold" fill="#000">A</text>
<text x="621.9" y="77.4" text-anchor="middle" font-size="11" font-weight="bold" fill="#000">B</text>
<text x="493.4" y="185" text-anchor="middle" font-size="9" font-weight="bold" fill="#000">Juvenile</text>
<text x="619.7" y="184.7" text-anchor="middle" font-size="9.3" font-weight="bold" fill="#000" textLength="32" lengthAdjust="spacingAndGlyphs">Mature</text>
<text x="556.7" y="198" text-anchor="middle" font-size="12" font-weight="bold" fill="#000">Genotype</text>
<text transform="translate(392.9,92.2) rotate(-90)" text-anchor="middle" font-size="12.2" font-weight="bold" fill="#000" textLength="116.5" lengthAdjust="spacingAndGlyphs">Shoots per segment</text>
<text x="1.8" y="14.9" font-size="15" font-weight="bold" fill="#000">a</text>
<text x="2.9" y="206.3" font-size="15" font-weight="bold" fill="#000">b</text>
<text x="351" y="8.8" font-size="15" font-weight="bold" fill="#000">c</text>
<text x="393.3" y="214.9" font-size="15" font-weight="bold" fill="#000">d</text>
<defs>
<clipPath id="pclip"><rect x="430.2" y="226.8" width="165.1" height="214.8"/></clipPath>
<clipPath id="jclip"><path d="M484.50,237.60 C485.97,237.83 487.67,237.28 490.40,236.70 C493.13,236.12 497.20,234.78 500.90,234.10 C504.60,233.42 508.70,232.95 512.60,232.60 C516.50,232.25 520.57,232.17 524.30,232.00 C528.03,231.83 530.78,231.25 535.00,231.60 C539.22,231.95 544.72,232.77 549.60,234.10 C554.48,235.43 560.15,237.70 564.30,239.60 C568.45,241.50 571.57,243.30 574.50,245.50 C577.43,247.70 580.07,250.12 581.90,252.80 C583.73,255.48 584.50,258.48 585.50,261.60 C586.50,264.72 587.10,268.68 587.90,271.50 C588.70,274.32 589.38,276.32 590.30,278.50 C591.22,280.68 592.72,282.55 593.40,284.60 C594.08,286.65 594.20,288.57 594.40,290.80 C594.60,293.03 594.78,295.30 594.60,298.00 C594.42,300.70 594.12,303.98 593.30,307.00 C592.48,310.02 591.20,313.23 589.70,316.10 C588.20,318.97 586.40,321.65 584.30,324.20 C582.20,326.75 580.10,329.00 577.10,331.40 C574.10,333.80 570.00,336.63 566.30,338.60 C562.60,340.57 559.23,341.75 554.90,343.20 C550.57,344.65 545.17,346.00 540.30,347.30 C535.43,348.60 530.57,349.95 525.70,351.00 C520.83,352.05 515.38,353.13 511.10,353.60 C506.82,354.07 503.65,354.10 500.00,353.80 C496.35,353.50 492.87,352.72 489.20,351.80 C485.53,350.88 481.65,349.77 478.00,348.30 C474.35,346.83 471.10,345.18 467.30,343.00 C463.50,340.82 458.67,337.78 455.20,335.20 C451.73,332.62 448.97,330.18 446.50,327.50 C444.03,324.82 442.18,321.93 440.40,319.10 C438.62,316.27 436.97,313.48 435.80,310.50 C434.63,307.52 433.83,304.62 433.40,301.20 C432.97,297.78 433.13,293.53 433.20,290.00 C433.27,286.47 433.45,283.17 433.80,280.00 C434.15,276.83 434.67,273.80 435.30,271.00 C435.93,268.20 436.57,265.82 437.60,263.20 C438.63,260.58 439.92,257.75 441.50,255.30 C443.08,252.85 445.03,250.57 447.10,248.50 C449.17,246.43 451.45,244.58 453.90,242.90 C456.35,241.22 458.98,239.72 461.80,238.40 C464.62,237.08 468.18,235.72 470.80,235.00 C473.42,234.28 475.70,234.05 477.50,234.10 C479.30,234.15 480.43,234.72 481.60,235.30 C482.77,235.88 483.03,237.37 484.50,237.60 Z"/></clipPath>
<clipPath id="mclip"><path d="M439.20,421.70 C439.03,420.82 441.03,419.18 442.00,417.80 C442.97,416.42 443.57,415.35 445.00,413.40 C446.43,411.45 448.72,408.45 450.60,406.10 C452.48,403.75 454.42,401.37 456.30,399.30 C458.18,397.23 460.03,395.38 461.90,393.70 C463.77,392.02 465.63,390.60 467.50,389.20 C469.37,387.80 471.22,386.52 473.10,385.30 C474.98,384.08 476.92,383.03 478.80,381.90 C480.68,380.77 482.53,379.53 484.40,378.50 C486.27,377.47 488.12,376.60 490.00,375.70 C491.88,374.80 493.82,373.90 495.70,373.10 C497.58,372.30 499.42,371.72 501.30,370.90 C503.18,370.08 504.88,368.97 507.00,368.20 C509.12,367.43 511.33,366.97 514.00,366.30 C516.67,365.63 520.00,364.73 523.00,364.20 C526.00,363.67 528.77,363.55 532.00,363.10 C535.23,362.65 539.07,361.88 542.40,361.50 C545.73,361.12 549.13,360.80 552.00,360.80 C554.87,360.80 556.73,360.77 559.60,361.50 C562.47,362.23 566.33,363.62 569.20,365.20 C572.07,366.78 574.57,368.90 576.80,371.00 C579.03,373.10 581.00,375.72 582.60,377.80 C584.20,379.88 585.28,382.05 586.40,383.50 C587.52,384.95 588.37,385.88 589.30,386.50 C590.23,387.12 590.97,387.02 592.00,387.20 C593.03,387.38 594.92,386.83 595.50,387.60 C596.08,388.37 596.08,391.00 595.50,391.80 C594.92,392.60 592.95,391.95 592.00,392.40 C591.05,392.85 590.17,393.07 589.80,394.50 C589.43,395.93 589.88,398.65 589.80,401.00 C589.72,403.35 589.70,406.05 589.30,408.60 C588.90,411.15 588.37,413.73 587.40,416.30 C586.43,418.87 585.10,421.60 583.50,424.00 C581.90,426.40 580.18,428.80 577.80,430.70 C575.42,432.60 572.23,434.32 569.20,435.40 C566.17,436.48 563.62,436.87 559.60,437.20 C555.58,437.53 549.62,437.42 545.10,437.40 C540.58,437.38 536.05,437.23 532.50,437.10 C528.95,436.97 526.72,436.75 523.80,436.60 C520.88,436.45 517.92,436.33 515.00,436.20 C512.08,436.07 509.22,436.15 506.30,435.80 C503.38,435.45 500.42,434.60 497.50,434.10 C494.58,433.60 492.05,433.33 488.80,432.80 C485.55,432.27 480.97,431.45 478.00,430.90 C475.03,430.35 473.33,430.02 471.00,429.50 C468.67,428.98 466.33,428.43 464.00,427.80 C461.67,427.17 459.33,426.35 457.00,425.70 C454.67,425.05 452.33,424.33 450.00,423.90 C447.67,423.47 444.80,423.47 443.00,423.10 C441.20,422.73 439.37,422.58 439.20,421.70 Z"/></clipPath>
<linearGradient id="bg" x1="0" y1="0" x2="0" y2="1"><stop offset="0" stop-color="#f2f1ec"/><stop offset="0.57" stop-color="#f0ece5"/><stop offset="1" stop-color="#e6e0d6"/></linearGradient>
<filter id="blur4" x="-50%" y="-50%" width="200%" height="200%"><feGaussianBlur stdDeviation="6"/></filter>
<filter id="blur1" x="-20%" y="-20%" width="140%" height="140%"><feGaussianBlur stdDeviation="0.5"/></filter>
<filter id="blur2" x="-50%" y="-50%" width="200%" height="200%"><feGaussianBlur stdDeviation="1.5"/></filter>
<radialGradient id="bgp" cx="1" cy="0.1" r="0.9"><stop offset="0" stop-color="#fcefe6" stop-opacity="0.9"/><stop offset="1" stop-color="#fcefe6" stop-opacity="0"/></radialGradient>
</defs>
<g clip-path="url(#pclip)">
<rect x="430.2" y="226.8" width="165.1" height="214.8" fill="url(#bg)"/>
<rect x="430.2" y="226.8" width="165.1" height="214.8" fill="url(#bgp)"/>
<path d="M484.50,237.60 C485.97,237.83 487.67,237.28 490.40,236.70 C493.13,236.12 497.20,234.78 500.90,234.10 C504.60,233.42 508.70,232.95 512.60,232.60 C516.50,232.25 520.57,232.17 524.30,232.00 C528.03,231.83 530.78,231.25 535.00,231.60 C539.22,231.95 544.72,232.77 549.60,234.10 C554.48,235.43 560.15,237.70 564.30,239.60 C568.45,241.50 571.57,243.30 574.50,245.50 C577.43,247.70 580.07,250.12 581.90,252.80 C583.73,255.48 584.50,258.48 585.50,261.60 C586.50,264.72 587.10,268.68 587.90,271.50 C588.70,274.32 589.38,276.32 590.30,278.50 C591.22,280.68 592.72,282.55 593.40,284.60 C594.08,286.65 594.20,288.57 594.40,290.80 C594.60,293.03 594.78,295.30 594.60,298.00 C594.42,300.70 594.12,303.98 593.30,307.00 C592.48,310.02 591.20,313.23 589.70,316.10 C588.20,318.97 586.40,321.65 584.30,324.20 C582.20,326.75 580.10,329.00 577.10,331.40 C574.10,333.80 570.00,336.63 566.30,338.60 C562.60,340.57 559.23,341.75 554.90,343.20 C550.57,344.65 545.17,346.00 540.30,347.30 C535.43,348.60 530.57,349.95 525.70,351.00 C520.83,352.05 515.38,353.13 511.10,353.60 C506.82,354.07 503.65,354.10 500.00,353.80 C496.35,353.50 492.87,352.72 489.20,351.80 C485.53,350.88 481.65,349.77 478.00,348.30 C474.35,346.83 471.10,345.18 467.30,343.00 C463.50,340.82 458.67,337.78 455.20,335.20 C451.73,332.62 448.97,330.18 446.50,327.50 C444.03,324.82 442.18,321.93 440.40,319.10 C438.62,316.27 436.97,313.48 435.80,310.50 C434.63,307.52 433.83,304.62 433.40,301.20 C432.97,297.78 433.13,293.53 433.20,290.00 C433.27,286.47 433.45,283.17 433.80,280.00 C434.15,276.83 434.67,273.80 435.30,271.00 C435.93,268.20 436.57,265.82 437.60,263.20 C438.63,260.58 439.92,257.75 441.50,255.30 C443.08,252.85 445.03,250.57 447.10,248.50 C449.17,246.43 451.45,244.58 453.90,242.90 C456.35,241.22 458.98,239.72 461.80,238.40 C464.62,237.08 468.18,235.72 470.80,235.00 C473.42,234.28 475.70,234.05 477.50,234.10 C479.30,234.15 480.43,234.72 481.60,235.30 C482.77,235.88 483.03,237.37 484.50,237.60 Z" fill="#619222"/>
<g clip-path="url(#jclip)" filter="url(#blur4)">
<ellipse cx="452" cy="292" rx="17" ry="16" fill="#3f6a12" opacity="0.6"/>
<ellipse cx="465" cy="252" rx="20" ry="11" fill="#6c9e2e" opacity="0.7"/>
<ellipse cx="560" cy="320" rx="25" ry="18" fill="#6ca22e" opacity="0.6"/>
<ellipse cx="520" cy="255" rx="25" ry="12" fill="#557f1a" opacity="0.5"/>
</g>
<g clip-path="url(#jclip)" fill="none" stroke-linecap="round">
<path d="M594.00,285.00 C593.72,284.90 596.13,284.47 592.30,284.40 C588.47,284.33 578.50,284.42 571.00,284.60 C563.50,284.78 555.18,285.00 547.30,285.50 C539.42,286.00 529.58,286.88 523.70,287.60 C517.82,288.32 513.95,289.43 512.00,289.80" stroke="#a6b84a" stroke-width="1.6" opacity="0.9"/>
<path d="M512.00,289.80 C509.18,290.07 500.55,290.88 495.10,291.40 C489.65,291.92 484.57,292.30 479.30,292.90 C474.03,293.50 468.75,294.25 463.50,295.00 C458.25,295.75 452.22,296.73 447.80,297.40 C443.38,298.07 438.80,298.73 437.00,299.00" stroke="#90aa36" stroke-width="1.2" opacity="0.65"/>
<path d="M546.50,286.90 C544.68,289.35 539.22,296.75 535.60,301.60 C531.98,306.45 528.10,311.48 524.80,316.00 C521.50,320.52 518.50,324.78 515.80,328.70 C513.10,332.62 509.80,337.70 508.60,339.50" stroke="#9cb63c" stroke-width="1.0" opacity="0.7"/>
<path d="M573.50,285.40 C571.70,287.20 565.40,292.30 562.70,296.20 C560.00,300.10 559.10,304.88 557.30,308.80 C555.50,312.72 554.60,315.78 551.90,319.70 C549.20,323.62 544.42,328.70 541.10,332.30 C537.78,335.90 533.52,339.80 532.00,341.30" stroke="#9cb63c" stroke-width="1.0" opacity="0.7"/>
<path d="M587.90,285.40 C586.70,286.90 582.50,290.80 580.70,294.40 C578.90,298.00 578.30,302.78 577.10,307.00 C575.90,311.22 575.30,315.78 573.50,319.70 C571.70,323.62 567.50,328.70 566.30,330.50" stroke="#9cb63c" stroke-width="1.0" opacity="0.7"/>
<path d="M509.30,291.80 C507.72,294.57 502.68,303.80 499.80,308.40 C496.92,313.00 494.37,316.25 492.00,319.40 C489.63,322.55 486.67,325.98 485.60,327.30" stroke="#9cb63c" stroke-width="1.0" opacity="0.7"/>
<path d="M547.30,285.50 C544.67,283.62 536.48,277.67 531.50,274.20 C526.52,270.73 522.65,267.60 517.40,264.70 C512.15,261.80 502.90,258.12 500.00,256.80" stroke="#9cb63c" stroke-width="1.0" opacity="0.7"/>
<path d="M572.60,284.40 C570.50,282.17 563.68,274.82 560.00,271.00 C556.32,267.18 553.40,265.18 550.50,261.50 C547.60,257.82 545.23,252.83 542.60,248.90 C539.97,244.97 536.02,239.73 534.70,237.90" stroke="#9cb63c" stroke-width="1.0" opacity="0.7"/>
<path d="M588.30,283.60 C586.98,281.23 582.77,274.13 580.40,269.40 C578.03,264.67 576.20,259.13 574.10,255.20 C572.00,251.27 568.85,247.37 567.80,245.80" stroke="#9cb63c" stroke-width="1.0" opacity="0.7"/>
<path d="M498.60,291.00 C496.17,288.98 488.88,282.87 484.00,278.90 C479.12,274.93 474.20,270.12 469.30,267.20 C464.40,264.28 459.48,263.10 454.60,261.40 C449.72,259.70 442.43,257.73 440.00,257.00" stroke="#9cb63c" stroke-width="1.0" opacity="0.7"/>
<path d="M465.10,295.00 C463.00,293.55 456.43,288.80 452.50,286.30 C448.57,283.80 443.33,281.05 441.50,280.00" stroke="#9cb63c" stroke-width="1.0" opacity="0.7"/>
</g>
<path d="M504,321.2 C507,322.8 510,324.5 512.6,326.2 C510,327.5 507.5,329 506.3,331 C509,332.5 512,333.8 516.6,335.2" stroke="#141a0c" stroke-width="2" fill="none" stroke-linecap="round" stroke-linejoin="round" opacity="0.9"/>
<circle cx="514.4" cy="308.1" r="1.4" fill="#d0d8a0" opacity="0.75"/>
<circle cx="484.5" cy="237.8" r="1" fill="#2a2a2a"/>
<circle cx="491.3" cy="252.6" r="0.7" fill="#2a3a1a"/>
<circle cx="524" cy="345.8" r="0.8" fill="#2a3a1a"/>
<circle cx="454" cy="326" r="0.8" fill="#2a3a1a"/>
<path d="M439.20,421.70 C439.03,420.82 441.03,419.18 442.00,417.80 C442.97,416.42 443.57,415.35 445.00,413.40 C446.43,411.45 448.72,408.45 450.60,406.10 C452.48,403.75 454.42,401.37 456.30,399.30 C458.18,397.23 460.03,395.38 461.90,393.70 C463.77,392.02 465.63,390.60 467.50,389.20 C469.37,387.80 471.22,386.52 473.10,385.30 C474.98,384.08 476.92,383.03 478.80,381.90 C480.68,380.77 482.53,379.53 484.40,378.50 C486.27,377.47 488.12,376.60 490.00,375.70 C491.88,374.80 493.82,373.90 495.70,373.10 C497.58,372.30 499.42,371.72 501.30,370.90 C503.18,370.08 504.88,368.97 507.00,368.20 C509.12,367.43 511.33,366.97 514.00,366.30 C516.67,365.63 520.00,364.73 523.00,364.20 C526.00,363.67 528.77,363.55 532.00,363.10 C535.23,362.65 539.07,361.88 542.40,361.50 C545.73,361.12 549.13,360.80 552.00,360.80 C554.87,360.80 556.73,360.77 559.60,361.50 C562.47,362.23 566.33,363.62 569.20,365.20 C572.07,366.78 574.57,368.90 576.80,371.00 C579.03,373.10 581.00,375.72 582.60,377.80 C584.20,379.88 585.28,382.05 586.40,383.50 C587.52,384.95 588.37,385.88 589.30,386.50 C590.23,387.12 590.97,387.02 592.00,387.20 C593.03,387.38 594.92,386.83 595.50,387.60 C596.08,388.37 596.08,391.00 595.50,391.80 C594.92,392.60 592.95,391.95 592.00,392.40 C591.05,392.85 590.17,393.07 589.80,394.50 C589.43,395.93 589.88,398.65 589.80,401.00 C589.72,403.35 589.70,406.05 589.30,408.60 C588.90,411.15 588.37,413.73 587.40,416.30 C586.43,418.87 585.10,421.60 583.50,424.00 C581.90,426.40 580.18,428.80 577.80,430.70 C575.42,432.60 572.23,434.32 569.20,435.40 C566.17,436.48 563.62,436.87 559.60,437.20 C555.58,437.53 549.62,437.42 545.10,437.40 C540.58,437.38 536.05,437.23 532.50,437.10 C528.95,436.97 526.72,436.75 523.80,436.60 C520.88,436.45 517.92,436.33 515.00,436.20 C512.08,436.07 509.22,436.15 506.30,435.80 C503.38,435.45 500.42,434.60 497.50,434.10 C494.58,433.60 492.05,433.33 488.80,432.80 C485.55,432.27 480.97,431.45 478.00,430.90 C475.03,430.35 473.33,430.02 471.00,429.50 C468.67,428.98 466.33,428.43 464.00,427.80 C461.67,427.17 459.33,426.35 457.00,425.70 C454.67,425.05 452.33,424.33 450.00,423.90 C447.67,423.47 444.80,423.47 443.00,423.10 C441.20,422.73 439.37,422.58 439.20,421.70 Z" fill="#375d21"/>
<g clip-path="url(#mclip)" filter="url(#blur4)">
<ellipse cx="462" cy="418" rx="22" ry="9" fill="#223f14" opacity="0.7"/>
<ellipse cx="570" cy="380" rx="18" ry="14" fill="#44702a" opacity="0.7"/>
<ellipse cx="560" cy="420" rx="25" ry="12" fill="#3e6a26" opacity="0.5"/>
</g>
<g clip-path="url(#mclip)" fill="none" stroke-linecap="round">
<path d="M595.00,389.50 C592.28,389.82 583.65,390.77 578.70,391.40 C573.75,392.03 570.08,392.50 565.30,393.30 C560.52,394.10 555.58,395.37 550.00,396.20 C544.42,397.03 537.63,397.42 531.80,398.30 C525.97,399.18 520.30,400.55 515.00,401.50 C509.70,402.45 505.83,402.75 500.00,404.00 C494.17,405.25 486.67,407.25 480.00,409.00 C473.33,410.75 466.00,412.67 460.00,414.50 C454.00,416.33 446.67,419.08 444.00,420.00" stroke="#86a444" stroke-width="1.4" opacity="0.9"/>
<path d="M578.70,391.40 C577.12,389.17 572.38,382.15 569.20,378.00 C566.02,373.85 561.20,368.42 559.60,366.50" stroke="#7a9a3c" stroke-width="0.9" opacity="0.75"/>
<path d="M565.30,393.30 C563.92,391.75 559.88,387.05 557.00,384.00 C554.12,380.95 550.83,377.83 548.00,375.00 C545.17,372.17 541.33,368.33 540.00,367.00" stroke="#7a9a3c" stroke-width="0.9" opacity="0.75"/>
<path d="M550.00,396.20 C548.50,394.67 544.17,389.87 541.00,387.00 C537.83,384.13 534.33,381.50 531.00,379.00 C527.67,376.50 522.67,373.17 521.00,372.00" stroke="#7a9a3c" stroke-width="0.9" opacity="0.75"/>
<path d="M531.80,398.30 C530.17,397.08 525.47,393.38 522.00,391.00 C518.53,388.62 514.67,386.17 511.00,384.00 C507.33,381.83 501.83,379.00 500.00,378.00" stroke="#7a9a3c" stroke-width="0.9" opacity="0.75"/>
<path d="M515.00,401.50 C513.33,400.58 508.50,397.92 505.00,396.00 C501.50,394.08 497.50,391.67 494.00,390.00 C490.50,388.33 485.67,386.67 484.00,386.00" stroke="#7a9a3c" stroke-width="0.9" opacity="0.75"/>
<path d="M498.00,404.50 C496.33,403.92 491.67,402.08 488.00,401.00 C484.33,399.92 479.67,398.67 476.00,398.00 C472.33,397.33 467.67,397.17 466.00,397.00" stroke="#7a9a3c" stroke-width="0.9" opacity="0.75"/>
<path d="M582.60,391.00 C581.83,393.33 579.60,400.47 578.00,405.00 C576.40,409.53 574.80,413.77 573.00,418.20 C571.20,422.63 568.17,429.37 567.20,431.60" stroke="#7a9a3c" stroke-width="0.9" opacity="0.75"/>
<path d="M569.20,393.50 C568.50,395.58 566.60,401.88 565.00,406.00 C563.40,410.12 561.60,413.87 559.60,418.20 C557.60,422.53 554.10,429.70 553.00,432.00" stroke="#7a9a3c" stroke-width="0.9" opacity="0.75"/>
<path d="M553.00,395.50 C552.33,397.58 550.67,403.92 549.00,408.00 C547.33,412.08 545.17,415.83 543.00,420.00 C540.83,424.17 537.17,430.83 536.00,433.00" stroke="#7a9a3c" stroke-width="0.9" opacity="0.75"/>
<path d="M536.00,398.00 C535.17,400.00 533.00,406.17 531.00,410.00 C529.00,413.83 526.33,417.33 524.00,421.00 C521.67,424.67 518.17,430.17 517.00,432.00" stroke="#7a9a3c" stroke-width="0.9" opacity="0.75"/>
<path d="M518.00,401.00 C517.00,402.67 514.33,407.83 512.00,411.00 C509.67,414.17 506.50,417.00 504.00,420.00 C501.50,423.00 498.17,427.50 497.00,429.00" stroke="#7a9a3c" stroke-width="0.9" opacity="0.75"/>
<path d="M500.00,404.00 C498.83,405.33 495.50,409.50 493.00,412.00 C490.50,414.50 487.50,416.83 485.00,419.00 C482.50,421.17 479.17,424.00 478.00,425.00" stroke="#7a9a3c" stroke-width="0.9" opacity="0.75"/>
</g>
<path d="M522.5,373.5 C525,370.5 530,369.8 534.5,371.5 C535.5,373.5 532,375.8 528,375.6 C525,375.4 523,374.8 522.5,373.5 Z" fill="#0e180a" opacity="0.6" filter="url(#blur2)"/>
<path d="M538.5,381 C540.5,379.5 544,380 545.5,382.5 C546,385 544,387.2 541.5,387 C539.5,386.5 538,384 538.5,381 Z" fill="#0e180a" opacity="0.65" filter="url(#blur2)"/>
<text x="493" y="266.5" text-anchor="middle" font-size="12.2" font-weight="bold" fill="#fff" stroke="#fff" stroke-width="0.35" textLength="47" lengthAdjust="spacingAndGlyphs">Juvenile</text>
<text x="519.2" y="386.5" text-anchor="middle" font-size="11.6" font-weight="bold" fill="#fff" stroke="#fff" stroke-width="0.35" textLength="41.5" lengthAdjust="spacingAndGlyphs">Mature</text>
<text x="448.4" y="434.7" text-anchor="middle" font-size="11" fill="#2a2a2a" textLength="14.6" lengthAdjust="spacingAndGlyphs">cm</text>
<rect x="440.1" y="436.9" width="18.1" height="5.3" fill="#000"/>
</g>
</svg></body></html>
